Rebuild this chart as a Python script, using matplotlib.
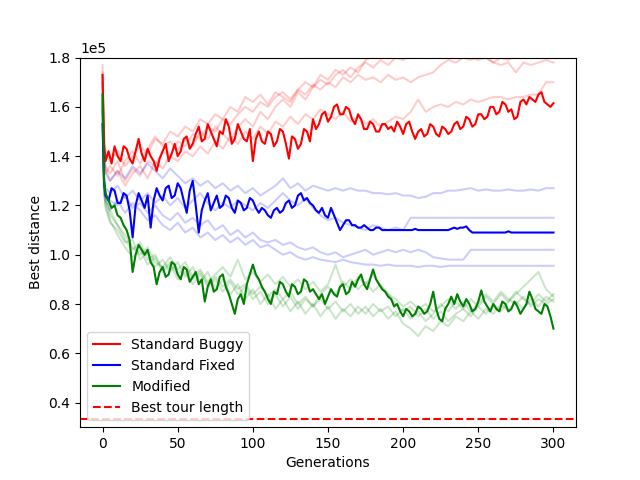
import numpy as np
import matplotlib
matplotlib.use("Agg")
import matplotlib.pyplot as plt

# generations sampled for the bold runs and the faint (single) runs
gens_main = [0, 1] + list(range(2, 301, 2))
gens_run = [0, 1, 2] + list(range(5, 301, 5))

# best distance, in units of 1e5
buggy_main = [1.73, 1.45, 1.38, 1.42, 1.37, 1.44, 1.40, 1.38, 1.44, 1.43, 1.39, 1.37, 1.42, 1.47,
              1.41, 1.38, 1.43, 1.40, 1.38, 1.34, 1.39, 1.42, 1.45, 1.38, 1.41, 1.45, 1.40, 1.42,
              1.47, 1.48, 1.43, 1.45, 1.49, 1.52, 1.46, 1.47, 1.53, 1.50, 1.47, 1.44, 1.50, 1.49,
              1.55, 1.52, 1.45, 1.47, 1.53, 1.50, 1.47, 1.46, 1.51, 1.38, 1.47, 1.50, 1.46, 1.45,
              1.50, 1.49, 1.44, 1.46, 1.51, 1.50, 1.45, 1.39, 1.48, 1.47, 1.43, 1.45, 1.51, 1.50,
              1.46, 1.55, 1.51, 1.53, 1.57, 1.58, 1.54, 1.56, 1.60, 1.61, 1.57, 1.57, 1.60, 1.59,
              1.55, 1.53, 1.57, 1.55, 1.51, 1.51, 1.54, 1.53, 1.50, 1.50, 1.53, 1.53, 1.51, 1.52,
              1.50, 1.54, 1.52, 1.49, 1.53, 1.54, 1.50, 1.47, 1.50, 1.51, 1.48, 1.49, 1.53, 1.52,
              1.49, 1.48, 1.52, 1.51, 1.49, 1.50, 1.53, 1.54, 1.51, 1.52, 1.56, 1.55, 1.52, 1.53,
              1.57, 1.57, 1.55, 1.56, 1.60, 1.60, 1.57, 1.58, 1.62, 1.61, 1.58, 1.59, 1.55, 1.56,
              1.62, 1.63, 1.61, 1.64, 1.63, 1.62, 1.65, 1.66, 1.62, 1.61, 1.60, 1.615]
fixed_main = [1.53, 1.30, 1.24, 1.22, 1.27, 1.26, 1.21, 1.21, 1.25, 1.24, 1.18, 1.07, 1.20, 1.25,
              1.22, 1.19, 1.24, 1.11, 1.22, 1.27, 1.24, 1.22, 1.27, 1.28, 1.23, 1.24, 1.29, 1.27,
              1.22, 1.17, 1.26, 1.30, 1.20, 1.09, 1.18, 1.22, 1.25, 1.18, 1.21, 1.24, 1.19, 1.20,
              1.24, 1.23, 1.19, 1.17, 1.22, 1.21, 1.18, 1.19, 1.23, 1.22, 1.19, 1.17, 1.19, 1.18,
              1.16, 1.15, 1.18, 1.19, 1.17, 1.18, 1.21, 1.22, 1.19, 1.20, 1.24, 1.25, 1.22, 1.23,
              1.21, 1.20, 1.18, 1.17, 1.19, 1.16, 1.15, 1.19, 1.16, 1.13, 1.10, 1.12, 1.14, 1.14,
              1.12, 1.12, 1.11, 1.11, 1.12, 1.11, 1.10, 1.10, 1.11, 1.11, 1.10, 1.10, 1.10, 1.10,
              1.10, 1.10, 1.10, 1.10, 1.10, 1.10, 1.10, 1.105, 1.10, 1.10, 1.10, 1.10, 1.10, 1.10,
              1.10, 1.10, 1.10, 1.10, 1.10, 1.105, 1.11, 1.105, 1.11, 1.11, 1.115, 1.10, 1.09, 1.09,
              1.09, 1.09, 1.09, 1.09, 1.09, 1.09, 1.09, 1.09, 1.09, 1.09, 1.095, 1.09, 1.09, 1.09,
              1.09, 1.09, 1.09, 1.09, 1.09, 1.09, 1.09, 1.09, 1.09, 1.09, 1.09, 1.09]
modified_main = [1.65, 1.30, 1.25, 1.22, 1.19, 1.20, 1.16, 1.15, 1.12, 1.10, 1.06, 0.93, 1.00, 1.04,
                 1.02, 1.00, 1.02, 0.97, 0.95, 0.88, 0.93, 0.95, 0.91, 0.92, 0.97, 0.96, 0.92, 0.90,
                 0.95, 0.94, 0.89, 0.91, 0.93, 0.88, 0.90, 0.81, 0.87, 0.90, 0.85, 0.86, 0.91, 0.92,
                 0.87, 0.84, 0.80, 0.76, 0.82, 0.84, 0.80, 0.88, 0.92, 0.96, 0.92, 0.90, 0.87, 0.85,
                 0.82, 0.80, 0.85, 0.84, 0.89, 0.88, 0.85, 0.83, 0.88, 0.87, 0.84, 0.85, 0.90, 0.89,
                 0.85, 0.86, 0.84, 0.82, 0.84, 0.80, 0.83, 0.86, 0.84, 0.83, 0.87, 0.88, 0.84, 0.85,
                 0.89, 0.87, 0.90, 0.92, 0.88, 0.86, 0.90, 0.94, 0.90, 0.88, 0.86, 0.85, 0.83, 0.82,
                 0.79, 0.80, 0.77, 0.75, 0.78, 0.77, 0.75, 0.76, 0.79, 0.78, 0.76, 0.77, 0.80, 0.85,
                 0.78, 0.74, 0.73, 0.78, 0.80, 0.83, 0.80, 0.84, 0.81, 0.79, 0.82, 0.80, 0.77, 0.78,
                 0.81, 0.855, 0.81, 0.79, 0.77, 0.80, 0.78, 0.77, 0.81, 0.80, 0.77, 0.78, 0.81, 0.79,
                 0.76, 0.78, 0.80, 0.85, 0.82, 0.78, 0.77, 0.76, 0.80, 0.79, 0.75, 0.70]

buggy_runs = [
    [1.77, 1.50, 1.42, 1.38, 1.42, 1.36, 1.40, 1.44, 1.41, 1.47, 1.45, 1.50, 1.48, 1.52, 1.50,
     1.55, 1.53, 1.57, 1.55, 1.60, 1.58, 1.64, 1.62, 1.65, 1.61, 1.66, 1.64, 1.62, 1.67, 1.70,
     1.68, 1.73, 1.71, 1.75, 1.73, 1.76, 1.74, 1.79, 1.81, 1.83, 1.82, 1.84, 1.83, 1.85, 1.84,
     1.86, 1.85, 1.87, 1.86, 1.84, 1.82, 1.80, 1.79, 1.80, 1.78, 1.80, 1.79, 1.81, 1.80, 1.82,
     1.81, 1.83, 1.82],
    [1.72, 1.42, 1.36, 1.33, 1.38, 1.30, 1.35, 1.32, 1.38, 1.36, 1.42, 1.40, 1.46, 1.44, 1.49,
     1.47, 1.52, 1.50, 1.55, 1.53, 1.57, 1.60, 1.58, 1.62, 1.60, 1.64, 1.66, 1.63, 1.67, 1.65,
     1.69, 1.67, 1.70, 1.68, 1.72, 1.70, 1.73, 1.71, 1.72, 1.70, 1.73, 1.71, 1.72, 1.70, 1.72,
     1.73, 1.74, 1.77, 1.79, 1.78, 1.80, 1.79, 1.81, 1.80, 1.78, 1.77, 1.78, 1.74, 1.78, 1.77,
     1.78, 1.79, 1.78],
    [1.70, 1.40, 1.35, 1.30, 1.34, 1.28, 1.33, 1.36, 1.31, 1.38, 1.35, 1.40, 1.38, 1.42, 1.40,
     1.44, 1.41, 1.46, 1.43, 1.48, 1.45, 1.50, 1.47, 1.52, 1.49, 1.54, 1.52, 1.56, 1.53, 1.57,
     1.55, 1.59, 1.57, 1.55, 1.58, 1.54, 1.56, 1.53, 1.55, 1.52, 1.54, 1.56, 1.55, 1.58, 1.63,
     1.58, 1.60, 1.61, 1.60, 1.62, 1.61, 1.63, 1.62, 1.63, 1.64, 1.64, 1.63, 1.64, 1.64, 1.65,
     1.65, 1.70, 1.70],
    [1.74, 1.38, 1.33, 1.36, 1.32, 1.38, 1.42, 1.37, 1.43, 1.48, 1.44, 1.46, 1.42, 1.47, 1.44,
     1.50, 1.47, 1.52, 1.49, 1.46, 1.52, 1.55, 1.52, 1.58, 1.55, 1.60, 1.63, 1.60, 1.66, 1.63,
     1.68, 1.71, 1.69, 1.73, 1.75, 1.72, 1.76, 1.78, 1.76, 1.79, 1.77, 1.80, 1.79, 1.81, 1.80,
     1.82, 1.80, 1.83, 1.82, 1.84, 1.83, 1.85, 1.84, 1.86, 1.85, 1.87, 1.86, 1.88, 1.87, 1.86,
     1.88, 1.87, 1.88],
]
fixed_runs = [
    [1.70, 1.40, 1.33, 1.30, 1.34, 1.31, 1.36, 1.33, 1.37, 1.34, 1.31, 1.35, 1.32, 1.29, 1.31,
     1.28, 1.30, 1.27, 1.29, 1.26, 1.28, 1.25, 1.27, 1.24, 1.26, 1.28, 1.31, 1.27, 1.29, 1.26,
     1.28, 1.27, 1.26, 1.27, 1.26, 1.27, 1.26, 1.26, 1.25, 1.25, 1.245, 1.25, 1.24, 1.24, 1.23,
     1.235, 1.25, 1.25, 1.26, 1.26, 1.265, 1.27, 1.26, 1.265, 1.26, 1.26, 1.265, 1.26, 1.26,
     1.265, 1.26, 1.27, 1.27],
    [1.65, 1.32, 1.27, 1.25, 1.28, 1.23, 1.26, 1.22, 1.25, 1.21, 1.24, 1.20, 1.23, 1.19, 1.22,
     1.25, 1.21, 1.18, 1.21, 1.19, 1.22, 1.20, 1.18, 1.21, 1.19, 1.22, 1.25, 1.22, 1.20, 1.23,
     1.19, 1.16, 1.14, 1.15, 1.13, 1.12, 1.11, 1.10, 1.12, 1.11, 1.10, 1.11, 1.10, 1.15, 1.15,
     1.15, 1.15, 1.15, 1.15, 1.15, 1.15, 1.15, 1.15, 1.15, 1.15, 1.15, 1.15, 1.15, 1.15, 1.15,
     1.15, 1.15, 1.15],
    [1.62, 1.28, 1.24, 1.22, 1.20, 1.24, 1.19, 1.21, 1.17, 1.20, 1.16, 1.14, 1.17, 1.13, 1.15,
     1.12, 1.14, 1.10, 1.12, 1.08, 1.10, 1.07, 1.09, 1.06, 1.05, 1.06, 1.04, 1.05, 1.03, 1.02,
     1.03, 1.01, 1.00, 1.01, 0.99, 1.00, 1.01, 1.02, 1.00, 1.01, 1.02, 1.01, 1.02, 1.01, 1.02,
     1.01, 0.99, 0.985, 0.98, 0.98, 0.98, 1.02, 1.02, 1.02, 1.02, 1.02, 1.02, 1.02, 1.02, 1.02,
     1.02, 1.02, 1.02],
    [1.60, 1.26, 1.22, 1.18, 1.22, 1.17, 1.21, 1.18, 1.14, 1.16, 1.12, 1.10, 1.13, 1.09, 1.11,
     1.07, 1.09, 1.06, 1.08, 1.05, 1.07, 1.04, 1.06, 1.03, 1.04, 1.02, 1.00, 1.01, 0.99, 0.98,
     0.99, 0.98, 0.975, 0.97, 0.98, 0.97, 0.965, 0.96, 0.96, 0.955, 0.96, 0.955, 0.955, 0.955,
     0.95, 0.955, 0.955, 0.95, 0.955, 0.955, 0.955, 0.955, 0.955, 0.955, 0.955, 0.955, 0.955,
     0.955, 0.955, 0.955, 0.955, 0.955, 0.955],
]
modified_runs = [
    [1.62, 1.28, 1.22, 1.16, 1.12, 1.06, 1.02, 1.05, 0.98, 1.00, 0.94, 0.97, 0.92, 0.95, 0.90,
     0.93, 0.88, 0.91, 0.87, 0.90, 0.86, 0.88, 0.84, 0.87, 0.83, 0.86, 0.82, 0.85, 0.80, 0.83,
     0.79, 0.82, 0.78, 0.81, 0.77, 0.80, 0.76, 0.79, 0.75, 0.78, 0.74, 0.77, 0.72, 0.70, 0.67,
     0.71, 0.69, 0.73, 0.71, 0.75, 0.73, 0.77, 0.74, 0.78, 0.76, 0.80, 0.77, 0.81, 0.78, 0.82,
     0.79, 0.83, 0.81],
    [1.60, 1.26, 1.20, 1.14, 1.08, 1.03, 0.99, 1.02, 0.96, 0.99, 0.93, 0.96, 0.90, 0.93, 0.88,
     0.92, 0.87, 0.90, 0.85, 0.89, 0.84, 0.87, 0.82, 0.85, 0.80, 0.84, 0.79, 0.83, 0.78, 0.82,
     0.79, 0.84, 0.87, 0.84, 0.89, 0.86, 0.91, 0.88, 0.92, 0.87, 0.84, 0.80, 0.77, 0.79, 0.75,
     0.78, 0.74, 0.77, 0.73, 0.76, 0.78, 0.75, 0.79, 0.76, 0.80, 0.77, 0.81, 0.84, 0.87, 0.90,
     0.93, 0.86, 0.83],
    [1.58, 1.25, 1.19, 1.13, 1.10, 1.05, 1.06, 0.98, 1.01, 0.95, 0.98, 0.93, 0.97, 0.91, 0.95,
     0.89, 0.93, 0.86, 0.90, 0.84, 0.88, 0.82, 0.86, 0.80, 0.84, 0.78, 0.82, 0.77, 0.81, 0.76,
     0.80, 0.75, 0.79, 0.74, 0.78, 0.75, 0.79, 0.76, 0.80, 0.77, 0.79, 0.75, 0.78, 0.74, 0.77,
     0.73, 0.76, 0.80, 0.77, 0.81, 0.78, 0.82, 0.79, 0.83, 0.80, 0.84, 0.81, 0.85, 0.82, 0.80,
     0.84, 0.81, 0.84],
    [1.63, 1.30, 1.24, 1.18, 1.12, 1.08, 1.03, 1.00, 1.03, 0.97, 0.95, 0.99, 0.94, 0.97, 0.91,
     0.94, 0.89, 0.92, 0.95, 0.91, 0.98, 0.90, 0.93, 0.89, 0.92, 0.88, 0.91, 0.87, 0.90, 0.86,
     0.89, 0.85, 0.88, 0.96, 0.87, 0.90, 0.86, 0.89, 0.85, 0.88, 0.84, 0.82, 0.79, 0.81, 0.78,
     0.80, 0.77, 0.79, 0.82, 0.78, 0.81, 0.77, 0.80, 0.84, 0.81, 0.85, 0.82, 0.80, 0.83, 0.79,
     0.82, 0.80, 0.82],
]
best_tour = 33523

groups = [
    ("Standard Buggy", "red", buggy_main, buggy_runs),
    ("Standard Fixed", "blue", fixed_main, fixed_runs),
    ("Modified", "green", modified_main, modified_runs),
]

fig, ax = plt.subplots(figsize=(6.4, 4.8), dpi=100)

for label, color, main, runs in groups:
    for run in runs:
        ax.plot(gens_run, np.array(run) * 1e5, color=color, alpha=0.2)
for label, color, main, runs in groups:
    ax.plot(gens_main, np.array(main) * 1e5, color=color, label=label)

ax.axhline(best_tour, color="red", linestyle="--", label="Best tour length")

ax.set_ylim(0.3e5, 1.8e5)
ax.ticklabel_format(axis="y", style="sci", scilimits=(0, 0))
ax.set_xlabel("Generations")
ax.set_ylabel("Best distance")
ax.legend(loc="lower left")

fig.savefig("out.png")
